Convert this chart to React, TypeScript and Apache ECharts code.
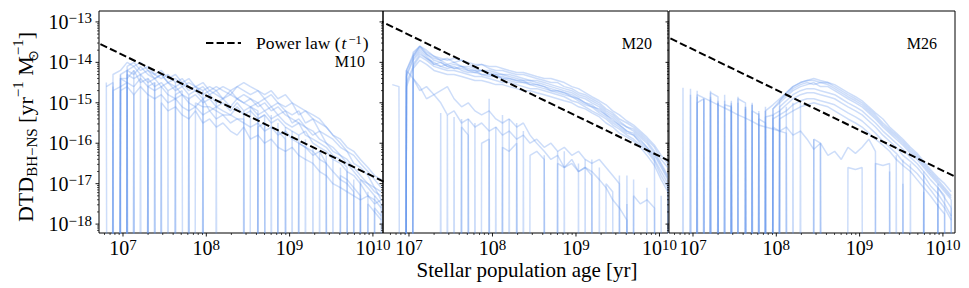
import React, { useEffect, useRef } from 'react';
import * as echarts from 'echarts';

// Z marks a bin with a zero rate: on a log axis it falls off the bottom, as in the original.
const Z = -99;

// log10(age / yr) of the age bins
const logAges = [6.80, 6.88, 6.97, 7.05, 7.13, 7.21, 7.30, 7.38, 7.46, 7.54, 7.63, 7.71, 7.79, 7.87, 7.96, 8.04, 8.12, 8.20, 8.29, 8.37, 8.45, 8.53, 8.62, 8.70, 8.78, 8.86, 8.95, 9.03, 9.11, 9.19, 9.28, 9.36, 9.44, 9.52, 9.61, 9.69, 9.77, 9.85, 9.94, 10.02, 10.10];

// log10(DTD) of each run, M10 panel
const m10Runs = [
  [Z, -14.3, -14.2, -14.0, -14.1, -14.0, -14.2, -14.3, -14.2, -14.4, -14.3, -14.5, -14.4, -14.6, -14.5, -14.7, -14.6, -14.7, -14.8, -14.6, -14.7, -14.8, -14.7, -14.9, -14.8, -15.0, -15.1, -15.0, -15.3, -15.2, -15.4, -15.5, -15.6, -15.8, -15.9, -16.1, -16.2, -16.4, -16.6, -16.8, -16.9],
  [Z, Z, -14.3, -14.2, -14.1, -14.3, -14.2, -14.4, -14.3, -14.5, -14.6, -14.5, -14.7, -14.6, -14.8, -14.7, -14.8, -14.9, -14.7, -14.9, -14.8, -14.9, -15.0, -14.9, -15.1, -15.0, -15.2, -15.3, -15.2, -15.5, -15.4, -15.7, -15.8, -15.9, -16.1, -16.2, -16.5, -16.6, -16.8, -17.1, -17.2],
  [-14.6, -14.5, Z, -14.3, -14.4, -14.3, -14.5, -14.4, -14.6, -14.5, -14.7, -14.6, -14.8, -14.7, -14.9, -14.8, -15.0, -14.9, -15.1, -14.9, -15.0, -15.1, -15.0, -15.2, -15.1, -15.3, -15.2, -15.5, -15.4, -15.6, -15.8, -15.7, -16.0, -16.1, -16.3, -16.4, -16.6, -16.8, -17.0, -17.1, -17.4],
  [Z, Z, -14.4, -14.4, -14.2, -14.5, -14.4, -14.6, -14.5, -14.7, -14.6, -14.8, -14.9, -14.8, -15.0, -14.9, -15.1, -15.0, -15.2, -15.0, -15.2, -15.1, -15.3, -15.2, -15.4, -15.3, -15.5, -15.6, -15.5, -15.8, -15.9, -16.0, -16.1, -16.3, -16.4, -16.6, Z, -16.9, -17.1, -17.3, -17.5],
  [Z, -14.7, -14.6, -14.5, -14.6, -14.4, -14.6, -14.7, -14.6, -14.8, -14.9, -14.8, -15.0, -15.1, -14.9, -15.2, -15.1, -15.2, -15.3, -15.1, -15.3, -15.2, -15.4, -15.3, -15.5, -15.4, -15.6, -15.7, -15.8, -15.7, -16.0, -16.1, -16.2, -16.4, -16.5, -16.7, -16.8, -17.0, -17.3, -17.4, -17.6],
  [Z, Z, Z, -14.2, -14.3, -14.1, -14.3, -14.4, -14.3, -14.5, -14.4, -14.6, -14.5, -14.6, -14.7, -14.6, -14.7, -14.6, -14.7, -14.6, -14.5, -14.6, -14.7, -14.8, -14.7, -14.9, -14.8, -15.0, -15.1, -15.2, -15.3, -15.4, -15.6, -15.8, -16.0, -16.2, -16.3, -16.5, -16.7, -16.9, -17.1],
  [Z, Z, -14.7, -14.6, -14.8, -14.6, -14.8, -14.9, -14.8, -15.0, -14.9, -15.1, -15.2, -15.1, -15.3, -15.2, -15.4, -15.3, -15.5, -15.4, -15.5, -15.6, -15.5, -15.7, -15.6, -15.8, -15.7, -15.9, -16.0, -16.1, -16.2, -16.4, -16.5, -16.7, -16.9, -17.0, -17.2, Z, -17.5, -17.7, -17.9],
  [Z, Z, Z, Z, -14.8, Z, -14.9, Z, -15.0, -15.2, -15.1, -15.3, -15.4, -15.2, -15.5, -15.4, -15.6, -15.5, -15.7, -15.8, -15.6, -15.9, -15.8, -16.0, -15.9, -16.1, -16.2, -16.1, -16.3, -16.4, -16.5, -16.7, -16.8, -17.0, -17.1, -17.2, -17.3, -17.4, -17.3, -17.5, -17.4],
  [-14.5, Z, -14.3, Z, -14.2, Z, -14.4, Z, -14.6, Z, -14.5, Z, -14.8, Z, -14.7, Z, -15.0, Z, Z, Z, -15.2, Z, -15.4, -15.3, Z, -15.5, Z, -15.7, Z, -15.9, Z, -16.2, Z, -16.4, Z, -16.7, Z, -17.0, Z, -17.3, Z],
  [Z, -14.6, Z, -14.2, Z, -14.3, Z, -14.5, Z, -14.7, Z, Z, -14.9, Z, -14.9, Z, Z, Z, Z, Z, Z, -15.1, -15.2, Z, -15.3, Z, -15.6, Z, -15.8, Z, -16.1, Z, -16.3, Z, -16.6, Z, -16.9, Z, -17.2, Z, -17.5],
  [Z, Z, Z, -14.1, -14.0, -14.2, -14.1, -14.3, -14.4, -14.3, -14.5, -14.4, -14.6, -14.7, -14.6, -14.8, -14.7, -14.9, -14.8, -14.9, -15.0, -14.9, -15.1, -15.0, -15.2, -15.1, -15.3, -15.4, -15.5, -15.6, -15.7, -15.9, -16.0, -16.2, -16.3, -16.5, -16.7, -16.9, -17.0, -17.2, -17.3],
  [Z, Z, -14.4, -14.5, Z, Z, -14.6, -14.5, Z, Z, -14.8, -14.7, Z, -15.0, -15.1, -15.1, -15.2, -15.3, -15.3, -15.4, -15.4, Z, -15.6, -15.5, Z, -15.7, -15.9, Z, -16.0, -16.1, -16.3, -16.2, -16.5, Z, -16.8, -16.9, -17.1, -17.3, Z, -17.6, -17.8],
];

// log10(DTD) of each run, M20 panel
const m20Runs = [
  [Z, Z, -14.2, -13.8, -13.6, -13.75, -13.85, -13.95, -13.9, -14.0, -13.95, -14.05, -14.1, -14.05, -14.15, -14.2, -14.2, -14.25, -14.3, -14.3, -14.35, -14.4, -14.45, -14.5, -14.5, -14.6, -14.65, -14.75, -14.8, -14.9, -15.0, -15.15, -15.25, -15.4, -15.5, -15.6, -15.75, -15.9, -16.1, -16.4, -16.6],
  [Z, Z, Z, -13.85, -13.65, -13.8, -13.9, -13.95, -14.05, -14.0, -14.1, -14.1, -14.15, -14.2, -14.2, -14.25, -14.3, -14.3, -14.35, -14.4, -14.45, -14.45, -14.5, -14.55, -14.6, -14.65, -14.7, -14.8, -14.85, -14.95, -15.05, -15.2, -15.3, -15.45, -15.6, -15.65, -15.8, -15.95, -16.2, -16.5, -16.8],
  [Z, Z, -14.35, -13.95, -13.75, -13.9, -14.0, -14.1, -14.05, -14.15, -14.1, -14.2, -14.25, -14.2, -14.3, -14.35, -14.35, -14.4, -14.45, -14.5, -14.5, -14.55, -14.6, -14.65, -14.7, -14.75, -14.8, -14.9, -15.0, -15.05, -15.2, -15.3, -15.45, -15.55, -15.7, -15.75, -15.9, -16.1, -16.3, -16.6, -16.9],
  [Z, Z, Z, -14.05, -13.8, -13.9, -14.05, -14.1, -14.15, -14.1, -14.2, -14.25, -14.25, -14.3, -14.35, -14.35, -14.4, -14.45, -14.5, -14.5, -14.55, -14.6, -14.65, -14.7, -14.75, -14.8, -14.85, -14.95, -15.05, -15.1, -15.25, -15.35, -15.5, -15.6, -15.75, -15.8, -16.0, -16.15, -16.4, -16.7, -17.0],
  [Z, Z, -14.5, -14.1, -13.85, -13.95, -14.1, -14.15, -14.2, -14.2, -14.25, -14.3, -14.35, -14.35, -14.4, -14.45, -14.5, -14.5, -14.55, -14.6, -14.65, -14.65, -14.7, -14.75, -14.8, -14.85, -14.95, -15.0, -15.1, -15.2, -15.3, -15.4, -15.55, -15.65, -15.8, -15.9, -16.05, -16.2, -16.45, -16.8, -17.1],
  [Z, Z, -14.2, -13.85, -13.6, -13.8, -13.95, -14.0, -14.1, -14.05, -14.1, -14.15, -14.2, -14.2, -14.25, -14.3, -14.3, -14.35, -14.4, -14.45, -14.45, -14.5, -14.55, -14.6, -14.65, -14.7, -14.75, -14.85, -14.9, -15.0, -15.1, -15.25, -15.35, -15.5, -15.6, -15.7, -15.85, -16.0, -16.25, -16.55, -16.85],
  [Z, Z, -14.6, -14.15, -13.95, -14.05, -14.2, -14.25, -14.3, -14.3, -14.35, -14.4, -14.45, -14.45, -14.5, -14.55, -14.55, -14.6, -14.65, -14.7, -14.7, -14.75, -14.8, -14.85, -14.9, -14.95, -15.0, -15.1, -15.15, -15.25, -15.35, -15.5, -15.6, -15.75, -15.85, -15.95, -16.1, -16.3, -16.55, -16.9, -17.2],
  [Z, Z, Z, -13.75, -13.6, -13.7, -13.85, -13.9, -13.95, -13.9, -13.95, -14.0, -14.05, -14.05, -14.1, -14.1, -14.15, -14.2, -14.25, -14.25, -14.3, -14.35, -14.4, -14.4, -14.45, -14.5, -14.6, -14.65, -14.75, -14.85, -14.95, -15.05, -15.2, -15.3, -15.45, -15.55, -15.7, -15.85, -16.05, -16.3, -16.5],
  [Z, Z, -14.3, -13.9, -13.7, -13.85, -14.05, -14.0, -14.1, -14.15, -14.15, -14.2, -14.2, -14.3, -14.3, -14.3, -14.4, -14.4, -14.45, -14.45, -14.55, -14.55, -14.6, -14.7, -14.7, -14.75, -14.85, -14.9, -15.0, -15.1, -15.15, -15.3, -15.4, -15.55, -15.7, -15.8, -15.95, -16.1, -16.35, Z, -17.0],
  [Z, Z, -14.2, -14.4, -14.6, -14.9, -14.8, -15.0, -15.3, -15.2, -15.5, -15.4, -15.6, -15.5, -15.7, -15.6, -15.8, -15.7, -15.9, -15.8, -16.0, -15.9, -16.1, -16.0, -16.2, -16.1, -16.3, -16.2, -16.4, -16.5, -16.4, -16.6, -16.8, -17.0, Z, -17.3, -17.5, -17.4, -17.6, Z, Z],
  [Z, Z, Z, -14.4, -14.7, -14.6, -14.8, -14.7, -14.6, -14.9, -15.1, -15.0, -15.2, -15.3, -15.2, -15.4, -15.5, -15.4, -15.6, -15.5, -15.8, -16.0, -16.2, -16.4, -16.3, -16.6, -16.5, -16.7, -16.6, -16.7, -16.9, -17.1, -17.4, -17.6, -17.9, Z, Z, Z, Z, Z, Z],
  [Z, Z, Z, Z, Z, Z, Z, Z, Z, Z, -15.6, -15.8, Z, -16.0, -15.9, Z, -16.1, -16.2, -16.0, Z, -16.3, -16.2, -16.4, Z, -16.5, -16.6, -16.4, -16.7, -16.6, -16.8, Z, -17.0, -17.2, Z, -17.5, Z, Z, Z, Z, Z, Z],
  [-14.55, -14.6, Z, Z, Z, Z, Z, -15.25, Z, -15.35, Z, -15.4, Z, Z, -14.9, Z, -15.3, Z, -15.5, Z, Z, Z, -16.3, Z, -16.2, Z, Z, -16.5, Z, -16.4, Z, Z, Z, -16.8, Z, -16.9, Z, -17.1, Z, -17.3, Z],
  [Z, Z, Z, Z, Z, Z, Z, Z, -15.3, Z, -15.4, Z, -15.5, Z, Z, -15.6, Z, -15.4, Z, -15.7, Z, Z, Z, Z, Z, -16.2, Z, Z, -16.4, Z, -16.6, Z, Z, Z, -16.8, Z, Z, Z, Z, Z, Z],
];

// log10(DTD) of each run, M26 panel
const m26Runs = [
  [Z, Z, Z, -14.7, Z, -14.7, Z, -14.8, Z, -14.85, Z, -15.0, Z, -15.2, -15.05, -14.9, -14.75, -14.6, -14.5, -14.45, -14.45, -14.5, -14.5, -14.6, -14.7, -14.8, -14.9, -15.0, -15.15, -15.3, -15.5, -15.65, -15.8, -15.95, -16.15, -16.3, -16.5, -16.7, -16.9, -17.1, -17.3],
  [Z, Z, Z, Z, -14.9, Z, -14.95, Z, -15.0, Z, -15.1, Z, -15.25, Z, -15.15, -15.0, -14.85, -14.7, -14.6, -14.55, -14.5, -14.6, -14.6, -14.7, -14.8, -14.9, -15.0, -15.1, -15.25, -15.4, -15.6, -15.75, -15.9, -16.05, -16.25, -16.4, -16.6, -16.8, -17.0, -17.2, -17.4],
  [Z, Z, Z, Z, Z, -14.75, -14.85, Z, Z, -14.9, -15.0, Z, Z, -15.1, Z, -14.95, -14.75, -14.6, -14.5, -14.45, -14.4, -14.45, -14.5, -14.55, -14.65, -14.75, -14.85, -14.95, -15.1, -15.25, -15.4, -15.6, -15.75, -15.9, -16.1, -16.25, -16.45, -16.65, -16.85, -17.0, -17.2],
  [Z, Z, Z, -15.0, -14.9, Z, Z, -15.05, -15.1, Z, Z, -15.2, -15.3, Z, Z, -15.1, -14.95, -14.8, -14.7, -14.65, -14.65, -14.7, -14.75, -14.8, -14.9, -15.0, -15.1, -15.2, -15.35, -15.5, -15.7, -15.85, -16.0, -16.15, -16.35, -16.5, -16.7, -16.9, -17.1, -17.35, -17.6],
  [Z, Z, Z, Z, Z, Z, -15.0, Z, Z, Z, -15.15, Z, Z, -15.35, -15.3, -15.2, -15.05, -14.9, -14.8, -14.75, -14.75, -14.8, -14.85, -14.9, -15.0, -15.1, -15.2, -15.3, -15.45, -15.6, -15.8, -15.95, -16.1, -16.3, -16.45, -16.6, -16.8, -17.05, -17.25, -17.5, -17.8],
  [Z, Z, Z, Z, Z, Z, Z, Z, -15.1, Z, Z, Z, Z, Z, -15.4, -15.3, -15.2, -15.05, -14.95, -14.9, -14.9, -14.95, -15.0, -15.05, -15.15, -15.25, -15.35, -15.45, -15.6, -15.75, -15.95, -16.1, -16.25, -16.45, -16.6, -16.75, -16.95, -17.15, -17.4, -17.6, -17.9],
  [Z, Z, -14.8, Z, Z, -14.85, Z, Z, -14.95, Z, Z, -15.05, Z, Z, -15.15, -14.95, -14.8, -14.65, -14.55, -14.5, -14.55, -14.5, -14.55, -14.65, -14.75, -14.85, -14.95, -15.05, -15.2, -15.35, -15.55, -15.7, -15.85, -16.0, -16.2, -16.35, -16.55, -16.75, -16.95, -17.15, -17.35],
  [Z, Z, Z, Z, Z, Z, Z, Z, Z, Z, Z, Z, -15.4, -15.5, Z, -15.4, -15.3, -15.2, -15.1, -15.05, -15.0, -15.05, -15.1, -15.2, -15.3, -15.4, -15.5, -15.6, -15.75, -15.9, -16.05, -16.2, -16.4, -16.55, -16.7, -16.9, -17.1, -17.3, -17.55, -17.75, Z],
  [Z, Z, Z, -14.8, -14.88, -14.96, -15.05, -15.13, -15.21, -15.3, -15.38, -15.46, -15.55, -15.6, -15.65, -15.7, -15.75, Z, Z, Z, -15.9, -16.0, Z, Z, Z, -16.6, -16.65, -16.6, Z, -16.5, -16.55, -16.5, Z, Z, Z, Z, Z, Z, Z, Z, Z],
  [Z, Z, Z, Z, Z, Z, Z, Z, Z, Z, Z, Z, Z, Z, -15.6, -15.7, -15.6, -15.8, -15.7, -15.9, -16.15, -16.0, -16.3, -16.2, -16.4, -16.1, -16.25, -16.1, -15.9, -16.2, Z, -16.7, Z, -17.0, Z, Z, -17.2, Z, -17.5, Z, -17.6],
  [Z, -14.63, Z, -14.85, Z, -14.9, Z, -14.95, Z, -15.0, Z, -15.05, Z, -15.2, Z, -15.2, Z, -15.0, Z, Z, -15.9, Z, Z, Z, Z, Z, Z, Z, Z, Z, Z, Z, -16.3, Z, -16.5, Z, -16.8, Z, -17.0, Z, -17.4],
  [Z, Z, -14.65, Z, -14.9, Z, -15.0, Z, -15.05, Z, -15.1, Z, -15.2, Z, -15.3, Z, -15.1, Z, -15.0, Z, Z, -16.0, Z, Z, Z, Z, Z, Z, Z, Z, Z, Z, Z, -16.4, Z, Z, -16.7, Z, -17.1, -17.3, Z],
];

const panelNames = ['M10', 'M20', 'M26'];
const panelRuns = [m10Runs, m20Runs, m26Runs];
// power law DTD = A / t : log10(A) per panel, drawn across the age range
const powerLawLogNorm = [-6.82, -6.32, -6.68];
const powerLawLogAgeEnds = [6.5, 10.4];

// axis ranges (log10)
const xLogRange = [[6.712, 10.121], [6.689, 10.102], [6.712, 10.145]];
const yLogRange = [-18.22, -12.73];

const xMajorTicks = [1e7, 1e8, 1e9, 1e10];
const xMinorTicks = [6e6, 7e6, 8e6, 9e6, 2e7, 3e7, 4e7, 5e7, 6e7, 7e7, 8e7, 9e7, 2e8, 3e8, 4e8, 5e8, 6e8, 7e8, 8e8, 9e8, 2e9, 3e9, 4e9, 5e9, 6e9, 7e9, 8e9, 9e9];
const yMajorTicks = [1e-18, 1e-17, 1e-16, 1e-15, 1e-14, 1e-13];
const yMinorTicks = [
  7e-19, 8e-19, 9e-19,
  2e-18, 3e-18, 4e-18, 5e-18, 6e-18, 7e-18, 8e-18, 9e-18,
  2e-17, 3e-17, 4e-17, 5e-17, 6e-17, 7e-17, 8e-17, 9e-17,
  2e-16, 3e-16, 4e-16, 5e-16, 6e-16, 7e-16, 8e-16, 9e-16,
  2e-15, 3e-15, 4e-15, 5e-15, 6e-15, 7e-15, 8e-15, 9e-15,
  2e-14, 3e-14, 4e-14, 5e-14, 6e-14, 7e-14, 8e-14, 9e-14,
];

// layout
const SERIF = '"Liberation Serif", "Times New Roman", "DejaVu Serif", serif';
const grids = [
  { left: 99, top: 11, width: 284, height: 222 },
  { left: 383, top: 11, width: 285, height: 222 },
  { left: 669, top: 11, width: 286, height: 222 },
];
const panelLabelPos = [[365, 61], [652, 43], [937, 43]];
const RUN_COLOR = 'rgba(100,149,237,0.32)';

const supText = (n: number) => (n < 0 ? '\u2212' + Math.abs(n) : String(n));
const powerLabel = (v: number) => {
  const e = Math.log10(v);
  const r = Math.round(e);
  if (Math.abs(e - r) > 1e-3) return '';
  return `{b|10}{s|${supText(r)}}`;
};
const labelRich = {
  b: { fontFamily: SERIF, fontSize: 20, lineHeight: 22, color: '#000' },
  s: { fontFamily: SERIF, fontSize: 15, lineHeight: 13, verticalAlign: 'top', color: '#000' },
};

function buildOption() {
  const yMin = Math.pow(10, yLogRange[0]);
  const yMax = Math.pow(10, yLogRange[1]);
  const series: any[] = [];
  const xAxis: any[] = [];
  const yAxis: any[] = [];
  const graphic: any[] = [];

  grids.forEach((_, gi) => {
    const xMin = Math.pow(10, xLogRange[gi][0]);
    const xMax = Math.pow(10, xLogRange[gi][1]);
    xAxis.push({
      type: 'log', logBase: 10, gridIndex: gi, min: xMin, max: xMax,
      axisLine: { show: false }, axisTick: { show: false }, splitLine: { show: false },
      minorTick: { show: false }, minorSplitLine: { show: false },
      axisLabel: { formatter: powerLabel, margin: 4, rich: labelRich, color: '#000' },
    });
    yAxis.push({
      type: 'log', logBase: 10, gridIndex: gi, min: yMin, max: yMax,
      axisLine: { show: false }, axisTick: { show: false }, splitLine: { show: false },
      minorTick: { show: false }, minorSplitLine: { show: false },
      axisLabel: { show: gi === 0, formatter: powerLabel, margin: 7, rich: labelRich, color: '#000' },
    });

    panelRuns[gi].forEach((run, k) => {
      series.push({
        type: 'line', name: `${panelNames[gi]} run ${k + 1}`,
        xAxisIndex: gi, yAxisIndex: gi,
        data: run.map((e, i) => [Math.pow(10, logAges[i]), Math.pow(10, e)]),
        showSymbol: false, symbol: 'none', silent: true, clip: true,
        lineStyle: { color: RUN_COLOR, width: 1.5 },
        z: 2,
      });
    });

    series.push({
      type: 'line', name: 'Power law',
      xAxisIndex: gi, yAxisIndex: gi,
      data: powerLawLogAgeEnds.map((a) => [Math.pow(10, a), Math.pow(10, powerLawLogNorm[gi] - a)]),
      showSymbol: false, symbol: 'none', silent: true, clip: true,
      lineStyle: { color: '#000', width: 2, type: [7.4, 3.2] },
      itemStyle: { color: '#000' },
      z: 5,
    });

    const tickData: number[][] = [];
    xMajorTicks.forEach((v) => tickData.push([v, yMin, 3.5, 0]));
    xMinorTicks.forEach((v) => tickData.push([v, yMin, 2, 0]));
    yMajorTicks.forEach((v) => tickData.push([xMin, v, 3.5, 1]));
    yMinorTicks.forEach((v) => tickData.push([xMin, v, 2, 1]));
    series.push({
      type: 'custom', name: `ticks ${gi}`,
      xAxisIndex: gi, yAxisIndex: gi, silent: true, clip: false, z: 10,
      dimensions: ['x', 'y', 'len', 'kind'],
      encode: { x: 0, y: 1 },
      data: tickData,
      renderItem: (params: any, api: any) => {
        const p = api.coord([api.value(0), api.value(1)]);
        const len = api.value(2);
        const isY = api.value(3) === 1;
        return {
          type: 'line',
          shape: isY
            ? { x1: p[0], y1: p[1], x2: p[0] - len, y2: p[1] }
            : { x1: p[0], y1: p[1], x2: p[0], y2: p[1] + len },
          style: { stroke: '#000', lineWidth: len > 3 ? 0.9 : 0.7 },
        };
      },
    });

    graphic.push({
      type: 'text', x: panelLabelPos[gi][0], y: panelLabelPos[gi][1], z: 20,
      style: { text: panelNames[gi], fontFamily: SERIF, fontSize: 16, fill: '#000', align: 'right', verticalAlign: 'middle' },
    });
  });

  graphic.push({
    type: 'text', x: 527, y: 270, z: 20,
    style: { text: 'Stellar population age [yr]', fontFamily: SERIF, fontSize: 21, fill: '#000', align: 'center', verticalAlign: 'middle' },
  });
  graphic.push({
    type: 'text', x: 25, y: 127, rotation: Math.PI / 2, z: 20,
    style: {
      text: '{m|DTD}{sub|BH\u2212NS}{m| [yr}{sup|\u22121}{m| M}{o|\u2299}{sup|\u22121}{m|]}',
      fontFamily: SERIF, fontSize: 22, fill: '#000', align: 'center', verticalAlign: 'middle',
      rich: {
        m: { fontFamily: SERIF, fontSize: 22, lineHeight: 29, fill: '#000' },
        sub: { fontFamily: SERIF, fontSize: 15, lineHeight: 14, verticalAlign: 'bottom', fill: '#000' },
        sup: { fontFamily: SERIF, fontSize: 15, lineHeight: 14, verticalAlign: 'top', fill: '#000' },
        o: { fontFamily: '"DejaVu Sans", sans-serif', fontSize: 13.5, lineHeight: 14, verticalAlign: 'bottom', width: 1, fill: '#000' },
      },
    },
  });

  return {
    animation: false,
    backgroundColor: '#fff',
    grid: grids.map((g) => ({ ...g, show: true, borderColor: '#000', borderWidth: 1, backgroundColor: 'transparent', containLabel: false, outerBoundsMode: 'none' })),
    xAxis,
    yAxis,
    legend: {
      data: ['Power law'], left: 205, top: 33, itemWidth: 35, itemHeight: 14, padding: 0,
      selectedMode: false,
      lineStyle: { color: '#000', width: 2, type: [7.4, 3.2] },
      itemStyle: { opacity: 0, borderWidth: 0 },
      formatter: () => '{n0|Power law (}{it|t}{sup|\u22121}{n|)}',
      textStyle: {
        color: '#000', fontFamily: SERIF, fontSize: 17.5,
        rich: {
          n0: { fontFamily: SERIF, fontSize: 17.5, lineHeight: 20, color: '#000', padding: [0, 0, 0, 10] },
          n: { fontFamily: SERIF, fontSize: 17.5, lineHeight: 20, color: '#000' },
          it: { fontFamily: SERIF, fontSize: 17.5, lineHeight: 20, fontStyle: 'italic', color: '#000', padding: [0, 1, 0, 1] },
          sup: { fontFamily: SERIF, fontSize: 12.5, lineHeight: 11, verticalAlign: 'top', color: '#000', padding: [0, 1, 0, 1] },
        },
      },
    },
    graphic,
    series,
  };
}

export default function App() {
  const ref = useRef<HTMLDivElement>(null);
  useEffect(() => {
    if (!ref.current) return;
    const chart = echarts.init(ref.current, null, { renderer: 'svg' });
    chart.setOption(buildOption() as any);
    return () => chart.dispose();
  }, []);
  return <div ref={ref} style={{ position: 'absolute', left: 0, top: 0, width: 969, height: 288 }} />;
}
